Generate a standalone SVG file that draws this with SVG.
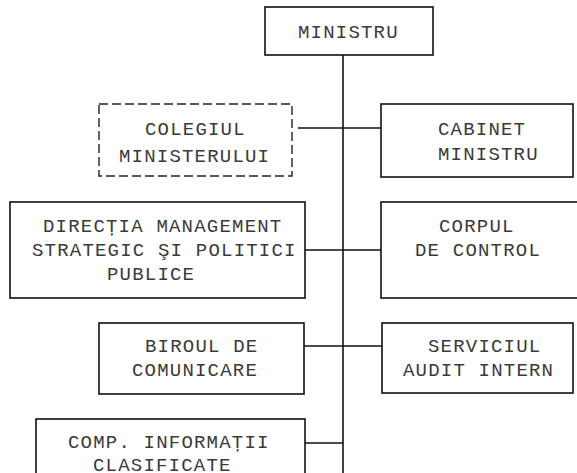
<svg xmlns="http://www.w3.org/2000/svg" width="577" height="473" viewBox="0 0 577 473">
<style>
.box{fill:#fff;stroke:#111;stroke-width:1.6}
.dash{fill:#fff;stroke:#222;stroke-width:1.4;stroke-dasharray:9,4}
.t{font-family:"Liberation Mono","DejaVu Sans Mono",monospace;font-size:19px;letter-spacing:1.2px;fill:#3a3a3a}
.c{stroke:#111;stroke-width:1.6;fill:none}
</style>
<rect width="577" height="473" fill="#fff"/>
<g id="connectors">
<line class="c" x1="343" y1="55" x2="343" y2="473"/>
<line class="c" x1="298" y1="128" x2="381" y2="128"/>
<line class="c" x1="305" y1="250" x2="381" y2="250"/>
<line class="c" x1="304" y1="346" x2="382" y2="346"/>
<line class="c" x1="305" y1="443" x2="343" y2="443"/>
</g>
<g id="ministru">
<rect class="box" x="265" y="7" width="168" height="48"/>
<text class="t" x="298" y="38">MINISTRU</text>
</g>
<g id="colegiul">
<rect class="dash" x="99" y="104" width="193" height="72"/>
<text class="t" x="145" y="135">COLEGIUL</text>
<text class="t" x="119" y="162">MINISTERULUI</text>
</g>
<g id="cabinet">
<rect class="box" x="381" y="104" width="192" height="73"/>
<text class="t" x="438" y="135">CABINET</text>
<text class="t" x="438" y="160">MINISTRU</text>
</g>
<g id="directia">
<rect class="box" x="10" y="202" width="295" height="96"/>
<text class="t" x="43" y="232">DIRECȚIA MANAGEMENT</text>
<text class="t" x="32" y="256">STRATEGIC ŞI POLITICI</text>
<text class="t" x="107" y="280">PUBLICE</text>
</g>
<g id="corpul">
<rect class="box" x="381" y="202" width="210" height="96"/>
<text class="t" x="439" y="232">CORPUL</text>
<text class="t" x="415" y="256">DE CONTROL</text>
</g>
<g id="biroul">
<rect class="box" x="99" y="323" width="205" height="71"/>
<text class="t" x="145" y="352">BIROUL DE</text>
<text class="t" x="132" y="376">COMUNICARE</text>
</g>
<g id="serviciul">
<rect class="box" x="382" y="323" width="191" height="70"/>
<text class="t" x="428" y="352">SERVICIUL</text>
<text class="t" x="403" y="376">AUDIT INTERN</text>
</g>
<g id="comp">
<rect class="box" x="36" y="419" width="269" height="70"/>
<text class="t" x="68" y="448">COMP. INFORMAȚII</text>
<text class="t" x="93" y="471">CLASIFICATE</text>
</g>
</svg>
